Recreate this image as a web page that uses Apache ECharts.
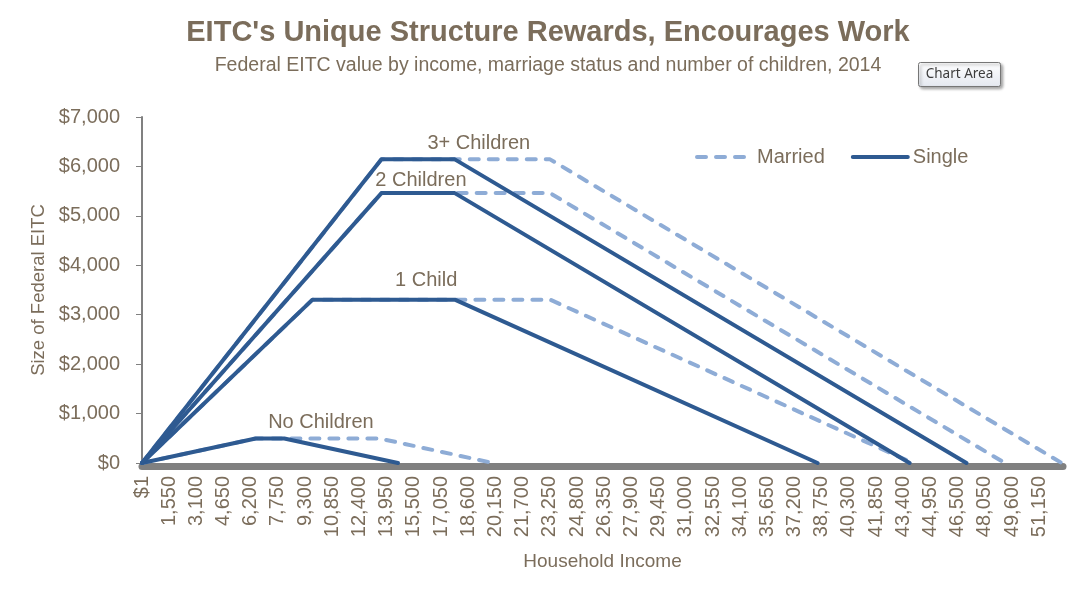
<!doctype html>
<html lang="en">
<head>
    <meta charset="UTF-8">
    <title>EITC structure</title>
    <style>
        html, body { margin: 0; padding: 0; background: #fff; }
        #main { width: 1092px; height: 591px; }
    </style>
    <script src="https://cdn.jsdelivr.net/npm/echarts@6/dist/echarts.min.js"></script>
</head>
<body>
<div id="main"></div>
<script type="text/javascript">
    // 2014 EITC parameters, one entry per family size
    var groups = ['No Children', '1 Child', '2 Children', '3+ Children'];
    var maxCredit = [496, 3305, 5460, 6143];
    var earnedIncomeAmount = [6480, 9720, 13650, 13650];
    var phaseOutStartSingle = [8110, 17830, 17830, 17830];
    var phaseOutEndSingle = [14590, 38511, 43756, 46997];
    var phaseOutStartMarried = [13540, 23260, 23260, 23260];
    var phaseOutEndMarried = [20020, 43941, 49186, 52427];
    var yTicks = [0, 1000, 2000, 3000, 4000, 5000, 6000, 7000];

    var brown = '#7b6d5b';
    var font = '"Liberation Sans", Arial, sans-serif';
    var singleColor = '#2e5a91';
    var marriedColor = '#8eacd6';

    function path(i, start, end) {
        return [[0, 0], [earnedIncomeAmount[i], maxCredit[i]], [start[i], maxCredit[i]], [end[i], 0]];
    }

    // where the group names sit (income, offset above the plateau)
    var labelAt = [[10200, -16], [16200, -19], [15900, -13], [19200, -16]];

    var series = [];
    for (var i = 0; i < groups.length; i++) {
        series.push({
            name: 'Married',
            type: 'line',
            symbol: 'none',
            data: path(i, phaseOutStartMarried, phaseOutEndMarried),
            lineStyle: { color: marriedColor, width: 4, type: [9, 10], cap: 'round', join: 'round' },
            itemStyle: { color: marriedColor },
            z: 2
        });
    }
    for (var j = 0; j < groups.length; j++) {
        series.push({
            name: 'Single',
            type: 'line',
            symbol: 'none',
            data: path(j, phaseOutStartSingle, phaseOutEndSingle),
            lineStyle: { color: singleColor, width: 4, cap: 'round', join: 'round' },
            itemStyle: { color: singleColor },
            z: 3,
            markPoint: {
                symbol: 'circle',
                symbolSize: 0,
                data: [{
                    coord: [labelAt[j][0], maxCredit[j]],
                    label: {
                        show: true,
                        formatter: groups[j],
                        position: 'inside',
                        offset: [0, labelAt[j][1]],
                        color: brown,
                        fontFamily: font,
                        fontSize: 20
                    }
                }]
            }
        });
    }

    var myChart = echarts.init(document.getElementById('main'));
    myChart.setOption({
        animation: false,
        title: {
            text: "EITC's Unique Structure Rewards, Encourages Work",
            subtext: 'Federal EITC value by income, marriage status and number of children, 2014',
            left: 543,
            textAlign: 'center',
            top: 13,
            itemGap: 9,
            textStyle: { color: brown, fontFamily: font, fontWeight: 'bold', fontSize: 29 },
            subtextStyle: { color: brown, fontFamily: font, fontSize: 19.5 }
        },
        legend: {
            data: ['Married', 'Single'],
            left: 690,
            top: 142,
            itemWidth: 55,
            itemHeight: 14,
            itemGap: 26,
            itemStyle: { opacity: 0 },
            lineStyle: { width: 4, cap: 'round' },
            textStyle: { color: brown, fontFamily: font, fontSize: 20 }
        },
        grid: { left: 142, right: 29, top: 117, bottom: 128 },
        xAxis: {
            type: 'value',
            min: 0,
            max: 52500,
            interval: 1550,
            offset: 3,
            name: 'Household Income',
            nameLocation: 'middle',
            nameGap: 86,
            nameTextStyle: { color: brown, fontFamily: font, fontSize: 19 },
            axisLine: { onZero: false, lineStyle: { color: '#808080', width: 7 } },
            axisTick: { show: false },
            splitLine: { show: false },
            axisLabel: {
                rotate: 90,
                margin: 10,
                showMaxLabel: false,
                color: brown,
                fontFamily: font,
                fontSize: 20,
                formatter: function (v) { return v === 0 ? '$1' : v.toLocaleString('en-US'); }
            }
        },
        yAxis: {
            type: 'value',
            min: yTicks[0],
            max: yTicks[yTicks.length - 1],
            interval: 1000,
            name: 'Size of Federal EITC',
            nameLocation: 'middle',
            nameGap: 78,
            nameTextStyle: { color: brown, fontFamily: font, fontSize: 18.5 },
            axisLine: { show: true, lineStyle: { color: '#808080', width: 2 } },
            axisTick: { show: true, length: 6, lineStyle: { color: '#808080', width: 1 } },
            splitLine: { show: false },
            axisLabel: {
                margin: 22,
                color: brown,
                fontFamily: font,
                fontSize: 20,
                formatter: function (v) { return '$' + v.toLocaleString('en-US'); }
            }
        },
        graphic: [{
            type: 'group',
            left: 918,
            top: 62,
            children: [{
                type: 'rect',
                shape: { x: 0, y: 0, width: 82, height: 24, r: 2 },
                style: {
                    fill: new echarts.graphic.LinearGradient(0, 0, 0, 1, [
                        { offset: 0, color: '#ffffff' }, { offset: 1, color: '#e4e8f0' }
                    ]),
                    stroke: '#767676',
                    lineWidth: 1,
                    shadowBlur: 3,
                    shadowOffsetX: 2,
                    shadowOffsetY: 2,
                    shadowColor: 'rgba(0,0,0,0.35)'
                }
            }, {
                type: 'text',
                x: 41,
                y: 12,
                style: {
                    text: 'Chart Area',
                    fill: '#3c3c3c',
                    font: '13.5px "Noto Sans", sans-serif',
                    align: 'center',
                    verticalAlign: 'middle'
                }
            }]
        }],
        series: series
    });
</script>
</body>
</html>
